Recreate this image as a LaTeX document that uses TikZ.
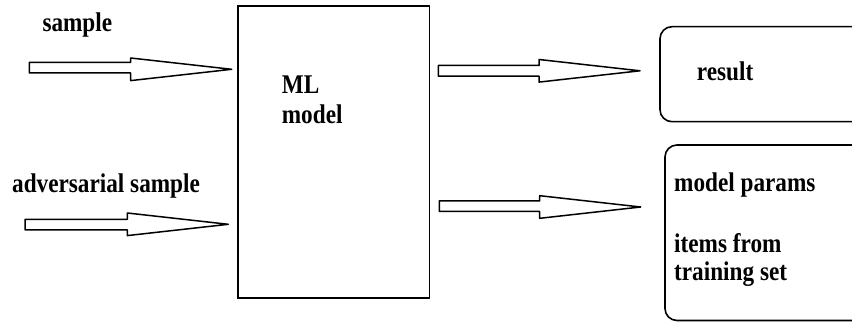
\documentclass[tikz,border=0pt]{standalone}
\usepackage{fontspec}
\setmainfont{Liberation Serif}[FakeStretch=0.86]
\usetikzlibrary{calc}

\tikzset{
  lbl/.style={anchor=base west, inner sep=0pt, font=\bfseries\fontsize{27}{27}\selectfont},
  modelbox/.style={draw, line width=1.6pt, inner sep=0pt},
  outbox/.style={draw, line width=1.6pt, rounded corners=12pt, inner sep=0pt},
  blk/.style={draw, line width=1.5pt, fill=white, line join=round}
}

% hollow block arrow from a tail coordinate to a tip coordinate
\newcommand\blockarrow[2]{%
  \draw[blk] let \p1=(#1), \p2=(#2) in
    (\x1,\y1+5.3pt) -- (\x2-101pt,\y1+5.3pt) -- (\x2-101pt,\y2+11.3pt)
    -- (\x2,\y2) -- (\x2-101pt,\y2-11.3pt) -- (\x2-101pt,\y1-5.3pt)
    -- (\x1,\y1-5.3pt) -- cycle;}

\begin{document}
\begin{tikzpicture}[x=1pt,y=-1pt]
\path[use as bounding box, clip] (0,0) rectangle (852,323);

% boxes
\node[modelbox, minimum width=191.5pt, minimum height=292.3pt] (ml) at (333.75,152.15) {};
\node[outbox, minimum width=240pt, minimum height=95pt] (res) at (780,74.2) {};
\node[outbox, minimum width=235pt, minimum height=175.5pt] (par) at (782.5,232.75) {};

% labels
\node[lbl] (lsample) at (42.3,32) {sample};
\node[lbl] (ladv) at (12,193) {adversarial sample};
\node[lbl] (tml) at (281.7,94) {ML};
\node[lbl] (tmodel) at (281.7,124) {model};
\node[lbl] (tresult) at (696.7,81) {result};
\node[lbl] (tparams) at (674,192) {model params};
\node[lbl] (titems) at (674,253) {items from};
\node[lbl] (ttrain) at (674,281) {training set};

% arrow ends
\coordinate (a1t) at (29.3,67.7);  \coordinate (a1h) at (231.7,69.3);
\coordinate (a2t) at (25,224.7);   \coordinate (a2h) at (228.3,224.3);
\coordinate (a3t) at (438.3,70.8); \coordinate (a3h) at (640,70.8);
\coordinate (a4t) at (439.3,206.2);\coordinate (a4h) at (640.7,207);

\blockarrow{a1t}{a1h}
\blockarrow{a2t}{a2h}
\blockarrow{a3t}{a3h}
\blockarrow{a4t}{a4h}
\end{tikzpicture}
\end{document}
